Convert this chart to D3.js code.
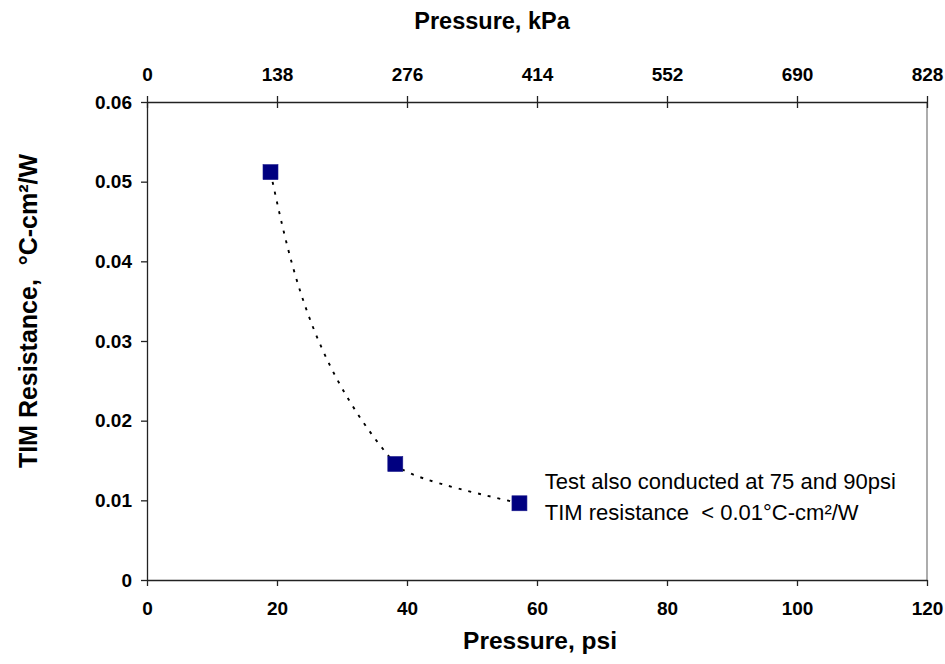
<!DOCTYPE html>
<html>
<head>
<meta charset="utf-8">
<script src="https://cdn.jsdelivr.net/npm/d3@7"></script>
<style>
  body { margin: 0; background: #fff; }
  svg text { font-family: Arial, "Liberation Sans", sans-serif; fill: #000; }
  .axis text { font-size: 19px; font-weight: bold; }
  .axis path, .axis line { stroke: #222; stroke-width: 1.3; }
  .title { font-size: 24px; font-weight: bold; }
  .note { font-size: 22px; white-space: pre; }
</style>
</head>
<body>
<div id="chartdiv"></div>
<script>
var PSI = [19, 38.2, 57.3];
var RESISTANCE = [0.0512, 0.01456, 0.00963];

var PSI_TICKS = [0, 20, 40, 60, 80, 100, 120];
var KPA_TICKS = [0, 138, 276, 414, 552, 690, 828];
var RES_TICKS = [0, 0.01, 0.02, 0.03, 0.04, 0.05, 0.06];

var NOTE_LINES = ["Test also conducted at 75 and 90psi", "TIM resistance  < 0.01\u00b0C-cm\u00b2/W"];

var margin = {top: 102, right: 18, bottom: 84, left: 147};
var W = 945, H = 664;
var width = W - margin.left - margin.right,
    height = H - margin.top - margin.bottom;

var svg = d3.select("#chartdiv").append("svg")
    .attr("width", W)
    .attr("height", H)
    .append("g")
    .attr("transform", "translate(" + margin.left + "," + margin.top + ")");

var xScale = d3.scaleLinear().domain([0, 120]).range([0, width]);
var kpaScale = d3.scaleLinear().domain([0, 828]).range([0, width]);
var yScale = d3.scaleLinear().domain([0, 0.06]).range([height, 0]);

// right border, grey, no ticks
svg.append("line")
    .attr("x1", width).attr("x2", width)
    .attr("y1", 0).attr("y2", height)
    .attr("stroke", "#808080")
    .attr("stroke-width", 1.3);

var xAxis = d3.axisBottom(xScale)
    .tickValues(PSI_TICKS)
    .tickSize(6).tickSizeOuter(0)
    .tickPadding(16);

var topAxis = d3.axisTop(kpaScale)
    .tickValues(KPA_TICKS)
    .tickFormat(d3.format("d"))
    .tickSize(6).tickSizeOuter(0)
    .tickPadding(15);

var yAxis = d3.axisLeft(yScale)
    .tickValues(RES_TICKS)
    .tickFormat(function(d) { return d === 0 ? "0" : d3.format(".2f")(d); })
    .tickSize(6).tickSizeOuter(0)
    .tickPadding(9);

svg.append("g")
    .attr("class", "x axis")
    .attr("transform", "translate(0," + height + ")")
    .call(xAxis);

var gTop = svg.append("g")
    .attr("class", "x2 axis")
    .call(topAxis);
// top ticks cross the axis line
gTop.selectAll(".tick line").attr("y1", 6);

svg.append("g")
    .attr("class", "y axis")
    .call(yAxis);

svg.selectAll(".axis .domain").attr("stroke", "#222");

// smoothed dotted line through the points
var pts = PSI.map(function(p, i) { return {x: p, y: RESISTANCE[i]}; });

var line = d3.line()
    .x(function(d) { return xScale(d.x); })
    .y(function(d) { return yScale(d.y); })
    .curve(d3.curveMonotoneY);

svg.append("path")
    .datum(pts)
    .attr("d", line)
    .attr("fill", "none")
    .attr("stroke", "#000")
    .attr("stroke-width", 1.9)
    .attr("stroke-dasharray", "3,7");

var size = 15;
svg.append("g")
    .selectAll("rect")
    .data(pts)
    .enter()
    .append("rect")
    .attr("x", function(d) { return xScale(d.x) - size / 2; })
    .attr("y", function(d) { return yScale(d.y) - size / 2; })
    .attr("width", size)
    .attr("height", size)
    .attr("fill", "#000080")
    .attr("stroke", "#1a1a8c")
    .attr("stroke-width", 0.6);

// annotation
svg.append("g")
    .selectAll("text")
    .data(NOTE_LINES)
    .enter()
    .append("text")
    .attr("class", "note")
    .attr("x", xScale(61.2))
    .attr("y", function(d, i) { return yScale(0.01136) + i * 31; })
    .text(function(d) { return d; });

// axis titles
svg.append("text")
    .attr("class", "title")
    .attr("x", width / 2 - 45)
    .attr("y", -73)
    .attr("text-anchor", "middle")
    .style("font-size", "23.5px")
    .text("Pressure, kPa");

svg.append("text")
    .attr("class", "title")
    .attr("x", width / 2 + 3)
    .attr("y", height + 69)
    .attr("text-anchor", "middle")
    .style("font-size", "24.5px")
    .text("Pressure, psi");

svg.append("text")
    .attr("class", "title")
    .attr("transform", "rotate(-90)")
    .attr("x", -(height / 2) + 30)
    .attr("y", -110)
    .attr("text-anchor", "middle")
    .style("white-space", "pre")
    .style("font-size", "25px")
    .text("TIM Resistance,  \u00b0C-cm\u00b2/W");
</script>
</body>
</html>
